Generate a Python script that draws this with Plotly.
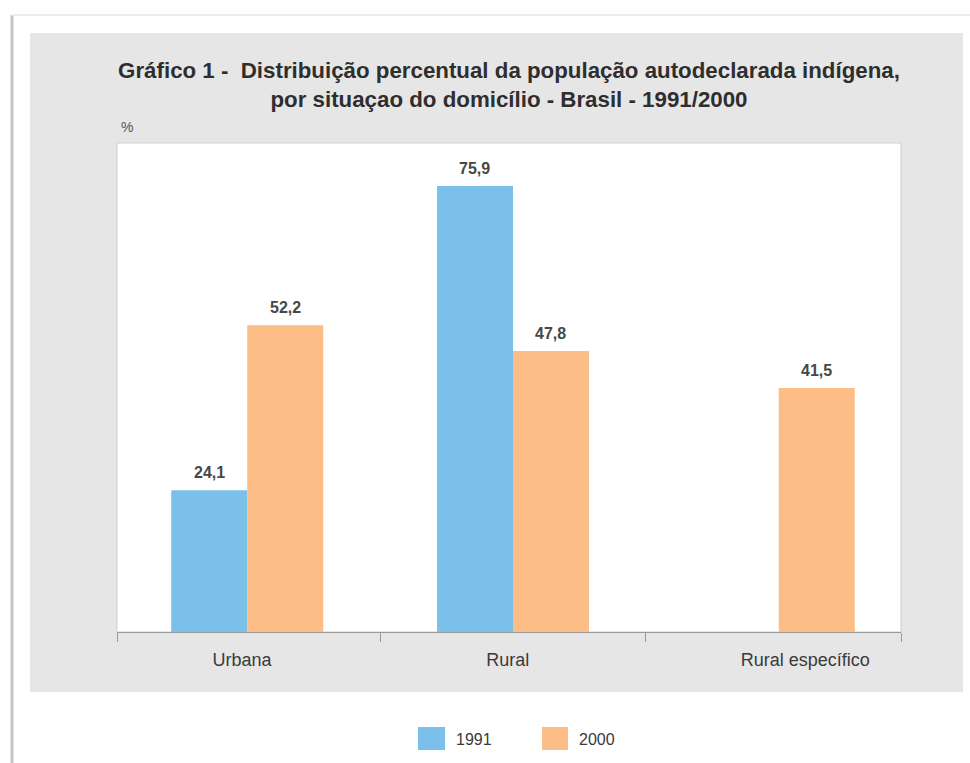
import plotly.graph_objects as go

# ---- data ----
categories = ["Urbana", "Rural", "Rural específico"]
years = ["1991", "2000"]
values_1991 = [24.1, 75.9, None]
values_2000 = [52.2, 47.8, 41.5]
colors = {"1991": "#7AC0EA", "2000": "#FDBD87"}

title_line1 = "Gráfico 1 -  Distribuição percentual da população autodeclarada indígena,"
title_line2 = "por situaçao do domicílio - Brasil - 1991/2000"
y_unit = "%"

FONT = "Liberation Sans, Arial, sans-serif"
W, H = 970, 763
L, R, T, B = 117, 69, 143, 131
PW, PH = W - L - R, H - T - B
BARGAP = 0.428


def px(x):
    return (x - L) / PW


def py(y):
    return (H - B - y) / PH


def fmt(v):
    return f"{v:.1f}".replace(".", ",")


series = {"1991": values_1991, "2000": values_2000}
xpos = list(range(len(categories)))

fig = go.Figure()
bar_w = (1 - BARGAP) / len(years)
label_annotations = []
for k, yr in enumerate(years):
    vals = series[yr]
    fig.add_trace(go.Bar(
        x=xpos, y=vals, name=yr,
        marker=dict(color=colors[yr], line=dict(width=0)),
        showlegend=False,
    ))
    off = (k - (len(years) - 1) / 2) * bar_w
    for i, v in zip(xpos, vals):
        if v is None:
            continue
        label_annotations.append(dict(
            text=fmt(v), x=i + off, y=v, xref="x", yref="y",
            xanchor="center", yanchor="bottom", yshift=7, showarrow=False,
            font=dict(family=FONT, size=16, color="#474747", weight="bold")))

# invisible trace for the boundary-tick axis
fig.add_trace(go.Scatter(x=[0], y=[0], xaxis="x2", mode="markers",
                         marker=dict(opacity=0), hoverinfo="skip", showlegend=False))

xr = [-0.49, 2.46]
label_shift = [-0.02, -0.02, 0.10]
shapes = [
    # page edges
    dict(type="line", xref="paper", yref="paper", x0=px(12), x1=px(12), y0=py(15), y1=py(763),
         line=dict(color="#c4c4c4", width=3), layer="below"),
    dict(type="line", xref="paper", yref="paper", x0=px(12), x1=px(970), y0=py(15), y1=py(15),
         line=dict(color="#ececec", width=2), layer="below"),
    # gray panel
    dict(type="rect", xref="paper", yref="paper", x0=px(30), x1=px(963), y0=py(692), y1=py(33),
         fillcolor="#E6E6E6", line=dict(width=0), layer="below"),
    # white plot area
    dict(type="rect", xref="paper", yref="paper", x0=0, x1=1, y0=0, y1=1,
         fillcolor="white", line=dict(color="#cfcfcf", width=1), layer="below"),
]

# manual legend
legend_boxes = [(418, 445), (542, 568)]
annotations = [
    dict(text=y_unit, xref="paper", yref="paper", x=px(127), y=py(127),
         xanchor="center", yanchor="middle",
         showarrow=False, font=dict(family=FONT, size=14, color="#555555")),
]
for (x0, x1), yr in zip(legend_boxes, years):
    shapes.append(dict(type="rect", xref="paper", yref="paper", x0=px(x0), x1=px(x1),
                       y0=py(750), y1=py(727), fillcolor=colors[yr], line=dict(width=0)))
    annotations.append(dict(text=yr, xref="paper", yref="paper", x=px(x1 + 9), y=py(739),
                            xanchor="left", yanchor="middle", showarrow=False,
                            font=dict(family=FONT, size=16, color="#3a3a3a")))

fig.update_layout(
    width=W, height=H,
    margin=dict(l=L, r=R, t=T, b=B, pad=0),
    paper_bgcolor="white",
    plot_bgcolor="rgba(0,0,0,0)",
    barmode="group", bargap=BARGAP, bargroupgap=0,
    title=dict(text=f"<b>{title_line1}</b><br><b>{title_line2}</b>",
               x=0.5, xref="paper", xanchor="center",
               y=1 - 78 / H, yref="container", yanchor="middle",
               font=dict(family=FONT, size=22.3, color="#2e2e2e")),
    xaxis=dict(range=xr, tickvals=[i + s for i, s in zip(xpos, label_shift)],
               ticktext=categories, ticks="", showgrid=False, zeroline=False,
               showline=True, linecolor="#9a9a9a", linewidth=1,
               ticklabelstandoff=11,
               tickfont=dict(family=FONT, size=18, color="#3a3a3a")),
    xaxis2=dict(range=xr, overlaying="x", anchor="y", side="bottom",
                tickvals=[xr[0], 0.5, 1.5, xr[1]], ticks="outside", ticklen=9,
                tickcolor="#9a9a9a", tickwidth=1, showticklabels=False,
                showgrid=False, zeroline=False, showline=False),
    yaxis=dict(range=[0, 83.2], showticklabels=False, showgrid=False, zeroline=False,
               showline=False, ticks=""),
    shapes=shapes,
    annotations=annotations + label_annotations,
    hovermode=False,
)

fig.write_html("out.html")
